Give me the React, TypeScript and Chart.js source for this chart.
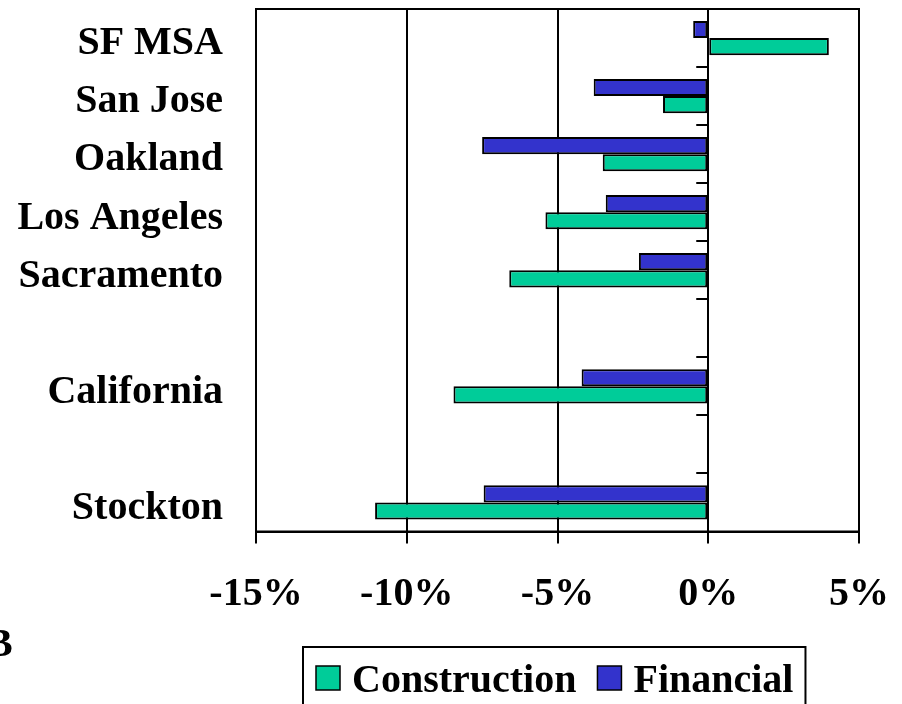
import React, { useEffect, useRef } from "react";
import { Chart, registerables } from "chart.js";

Chart.register(...registerables);

// ---- data ----
const categories = [
  "SF MSA",
  "San Jose",
  "Oakland",
  "Los Angeles",
  "Sacramento",
  "",
  "California",
  "",
  "Stockton",
];
const financial = [-0.5, -3.8, -7.5, -3.4, -2.3, null, -4.2, null, -7.45];
const construction = [4.0, -1.5, -3.5, -5.4, -6.6, null, -8.45, null, -11.05];
const seriesNames = ["Financial", "Construction"];
const seriesColors = ["#3333CC", "#00CC99"];
const xMin = -15;
const xMax = 5;
const xStep = 5;
const sideNote = "B";

const FONT = "'Liberation Serif', 'Times New Roman', serif";

const decorPlugin = {
  id: "decor",
  afterDraw(chart: any) {
    const { ctx, chartArea: ca, scales } = chart;
    const xs = scales.x;
    const ys = scales.y;
    ctx.save();
    ctx.strokeStyle = "#000";
    ctx.lineWidth = 2;
    // plot area border
    ctx.strokeRect(ca.left, ca.top, ca.right - ca.left, ca.bottom - ca.top);
    // category tick marks on the zero axis
    const x0 = xs.getPixelForValue(0);
    ctx.beginPath();
    for (let i = 0; i <= categories.length; i++) {
      const py = Math.round(ys.getPixelForValue(i - 0.5));
      ctx.moveTo(x0 - 12, py);
      ctx.lineTo(x0, py);
    }
    ctx.stroke();

    // legend (Construction first, then Financial)
    ctx.font = `bold 40px ${FONT}`;
    ctx.textBaseline = "alphabetic";
    ctx.textAlign = "left";
    const items = chart.data.datasets.map((d: any) => d).reverse();
    const legLeft = 303;
    const legTop = 647;
    let cx = legLeft + 13;
    const widths = items.map((d: any) => ctx.measureText(d.label).width);
    items.forEach((d: any, i: number) => {
      ctx.fillStyle = d.backgroundColor;
      ctx.fillRect(cx, 666, 24, 24);
      ctx.lineWidth = 1.5;
      ctx.strokeRect(cx, 666, 24, 24);
      cx += 24 + 12;
      ctx.fillStyle = "#000";
      ctx.fillText(d.label, cx, 692);
      cx += widths[i] + (i < items.length - 1 ? 21 : 12);
    });
    ctx.lineWidth = 2;
    ctx.strokeRect(legLeft, legTop, cx - legLeft, 80);

    // side note partially cut off at the left edge
    ctx.fillStyle = "#000";
    ctx.fillText(sideNote, -14, 656);
    ctx.restore();
  },
};

const zeroPad = (s: any) => {
  s.paddingTop = 0;
  s.paddingBottom = 0;
  s.paddingLeft = 0;
  s.paddingRight = 0;
};

export default function App() {
  const ref = useRef<HTMLCanvasElement | null>(null);
  useEffect(() => {
    if (!ref.current) return;
    const chart = new Chart(ref.current, {
      type: "bar",
      data: {
        labels: categories,
        datasets: [
          {
            label: seriesNames[0],
            data: financial,
            backgroundColor: seriesColors[0],
            borderColor: "#000",
            borderWidth: 2,
            borderSkipped: false,
            categoryPercentage: 0.59,
            barPercentage: 1.0,
          },
          {
            label: seriesNames[1],
            data: construction,
            backgroundColor: seriesColors[1],
            borderColor: "#000",
            borderWidth: 2,
            borderSkipped: false,
            categoryPercentage: 0.59,
            barPercentage: 1.0,
          },
        ],
      },
      options: {
        indexAxis: "y",
        animation: false,
        responsive: false,
        devicePixelRatio: 1,
        layout: { padding: { top: 9, right: 43, left: 0, bottom: 0 } },
        plugins: {
          legend: { display: false },
          tooltip: { enabled: false },
        },
        scales: {
          x: {
            type: "linear",
            min: xMin,
            max: xMax,
            ticks: {
              stepSize: xStep,
              color: "#000",
              padding: 27,
              font: { family: FONT, size: 40, weight: "bold" },
              callback: (v: any) => `${v}%`,
            },
            grid: {
              color: "#000",
              lineWidth: 2,
              tickLength: 12,
              drawTicks: true,
            },
            border: { display: true, color: "#000", width: 2 },
            afterFit: (s: any) => {
              s.height = 172.5;
              zeroPad(s);
            },
          },
          y: {
            type: "category",
            ticks: {
              color: "#000",
              padding: 33,
              labelOffset: 6,
              autoSkip: false,
              font: { family: FONT, size: 40, weight: "bold" },
            },
            grid: { display: false, drawTicks: false },
            border: { display: false },
            afterFit: (s: any) => {
              s.width = 256;
              zeroPad(s);
            },
          },
        },
      },
      plugins: [decorPlugin],
    } as any);
    return () => chart.destroy();
  }, []);

  return (
    <div style={{ position: "absolute", left: 0, top: 0, width: 902, height: 704, background: "#fff" }}>
      <canvas ref={ref} width={902} height={704} style={{ display: "block" }} />
    </div>
  );
}
